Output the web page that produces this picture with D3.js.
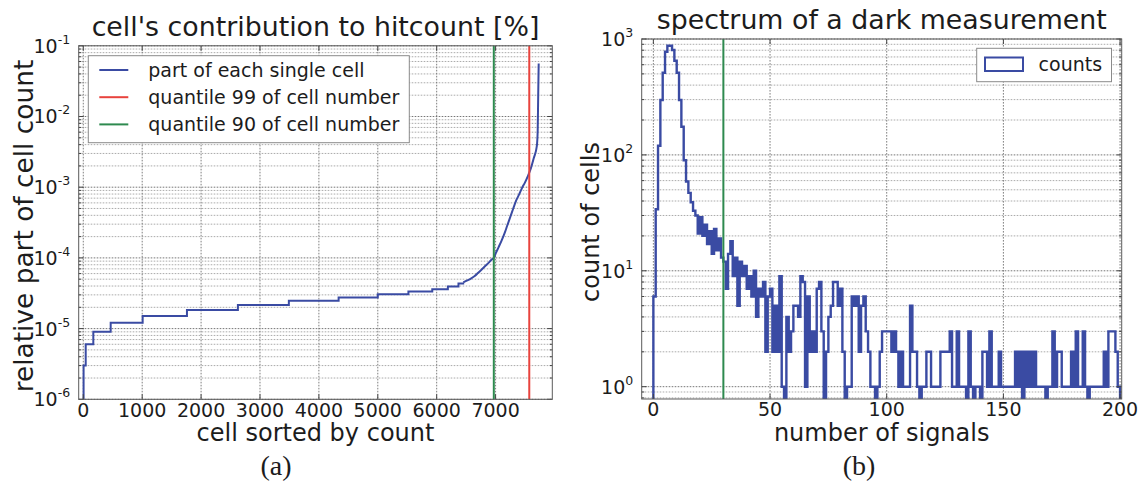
<!DOCTYPE html>
<html>
<head>
<meta charset="utf-8">
<script src="https://cdn.jsdelivr.net/npm/d3@7"></script>
<style>
  body { margin: 0; background: #fff; }
  svg text { font-family: "DejaVu Sans", sans-serif; fill: #1c1c1c; }
  .caption { font-family: "Liberation Serif", "DejaVu Serif", serif; }
</style>
</head>
<body>
<svg id="fig" width="1142" height="498"></svg>
<script>
// ---------- (a) share of every cell in the total hit count ----------
// plateau part of the sorted curve (rank where a new level starts, share)
const stepRank = [0, 5, 41, 170, 465, 1008, 1760, 2625, 3490, 4335, 5000, 5520, 5925, 6190, 6370, 6450];
const stepPart = [1.0e-6, 3.0e-6, 6.0e-6, 9.0e-6, 1.21e-5, 1.51e-5, 1.84e-5, 2.15e-5, 2.48e-5, 2.75e-5,
                  3.05e-5, 3.35e-5, 3.6e-5, 3.95e-5, 4.35e-5, 4.5e-5];
// steep tail of the sorted curve
const tailRank = [6450, 6520, 6580, 6640, 6700, 6760, 6820, 6880, 6930, 6970, 7000, 7050, 7100, 7150, 7200,
                  7250, 7300, 7350, 7400, 7450, 7500, 7550, 7600, 7650, 7700, 7715, 7722, 7728, 7732];
const tailPart = [4.5e-5, 4.8e-5, 5.1e-5, 5.5e-5, 6.1e-5, 6.8e-5, 7.6e-5, 8.5e-5, 9.4e-5, 1.0e-4, 1.15e-4,
                  1.41e-4, 1.74e-4, 2.2e-4, 2.9e-4, 3.8e-4, 5.0e-4, 6.5e-4, 7.9e-4, 9.8e-4, 1.17e-3,
                  1.45e-3, 1.86e-3, 2.6e-3, 3.8e-3, 6.3e-3, 1.6e-2, 3.5e-2, 5.6e-2];
const quantileRanks = [7572, 6970];           // quantile 99, quantile 90
const rankTicks = [0, 1000, 2000, 3000, 4000, 5000, 6000, 7000];
const partExponents = [-6, -5, -4, -3, -2, -1];
const legendA = ["part of each single cell", "quantile 99 of cell number", "quantile 90 of cell number"];

// ---------- (b) dark spectrum, bins of width 1 starting at 0 ----------
const signalCounts = [
  6, 34, 120, 298, 512, 777, 875, 875, 804, 650,
  512, 298, 175, 90, 59, 47, 39, 33, 30, 21,
  29, 20, 25, 17, 22, 14, 23, 15, 19, 13,
  12, 7, 14, 18, 9, 13, 5, 12, 9, 11,
  7, 9, 6, 10, 4, 7, 6, 8, 2, 6,
  7, 2, 5, 2, 9, 1, 0, 4, 2, 3,
  5, 5, 4, 9, 8, 1, 6, 2, 3, 2,
  7, 8, 3, 0, 2, 4, 5, 8, 8, 5,
  7, 2, 0, 1, 1, 6, 5, 6, 2, 5,
  6, 3, 2, 1, 1, 0, 1, 2, 3, 3,
  3, 3, 2, 3, 2, 1, 2, 1, 1, 1,
  5, 2, 2, 1, 0, 1, 1, 2, 2, 1,
  1, 1, 1, 2, 2, 2, 2, 3, 1, 1,
  3, 1, 1, 1, 0, 3, 1, 0, 1, 1,
  0, 2, 2, 1, 3, 1, 1, 1, 2, 1,
  1, 1, 1, 1, 1, 2, 1, 2, 0, 2,
  1, 2, 1, 2, 1, 1, 1, 1, 0, 1,
  1, 3, 1, 2, 2, 1, 1, 1, 1, 2,
  1, 3, 1, 1, 3, 1, 0, 1, 1, 1,
  1, 1, 1, 2, 1, 3, 3, 3, 2, 1
];
const signalCut = 30;
const signalTicks = [0, 50, 100, 150, 200];
const countExponents = [0, 1, 2, 3];
const legendB = ["counts"];

// ---------- drawing ----------
const BLUE = "#3a4ba3", RED = "#e8433d", GREEN = "#2e8a4f";
const svg = d3.select("#fig");

function minorValues(lo, hi) {
  const out = [];
  for (let k = Math.floor(Math.log10(lo)); k <= Math.ceil(Math.log10(hi)); k++)
    for (let m = 2; m <= 9; m++) {
      const v = m * Math.pow(10, k);
      if (v > lo && v < hi) out.push(v);
    }
  return out;
}

function frame(x, y, xTicks, yMajor, id) {
  const g = svg.append("g");
  const [x0, x1] = x.range(), [y0, y1] = y.range();
  g.append("clipPath").attr("id", id).append("rect")
    .attr("x", x0).attr("y", y1).attr("width", x1 - x0).attr("height", y0 - y1);
  const yMinor = minorValues(y.domain()[0], y.domain()[1]);
  g.selectAll(".gmin").data(yMinor).join("line")
    .attr("x1", x0).attr("x2", x1).attr("y1", d => y(d)).attr("y2", d => y(d))
    .attr("stroke", "#959595").attr("stroke-width", 0.8).attr("stroke-dasharray", "1.6 1.4");
  g.selectAll(".gmaj").data(yMajor).join("line")
    .attr("x1", x0).attr("x2", x1).attr("y1", d => y(d)).attr("y2", d => y(d))
    .attr("stroke", "#666").attr("stroke-width", 0.9).attr("stroke-dasharray", "1.6 1.4");
  g.selectAll(".gx").data(xTicks).join("line")
    .attr("x1", d => x(d)).attr("x2", d => x(d)).attr("y1", y1).attr("y2", y0)
    .attr("stroke", "#707070").attr("stroke-width", 0.9).attr("stroke-dasharray", "1.6 1.4");
  return g;
}

function axesOverlay(x, y, xTicks, yMajor, yExp, opts) {
  const g = svg.append("g");
  const [x0, x1] = x.range(), [y0, y1] = y.range();
  const yMinor = minorValues(y.domain()[0], y.domain()[1]);
  // inward tick marks on all four sides
  const tick = (vals, len, horiz) => vals.forEach(v => {
    if (horiz) {
      g.append("line").attr("x1", x0).attr("x2", x0 + len).attr("y1", y(v)).attr("y2", y(v)).attr("stroke", "#444");
      g.append("line").attr("x1", x1).attr("x2", x1 - len).attr("y1", y(v)).attr("y2", y(v)).attr("stroke", "#444");
    } else {
      g.append("line").attr("y1", y0).attr("y2", y0 - len).attr("x1", x(v)).attr("x2", x(v)).attr("stroke", "#444");
      g.append("line").attr("y1", y1).attr("y2", y1 + len).attr("x1", x(v)).attr("x2", x(v)).attr("stroke", "#444");
    }
  });
  tick(yMajor, 5, true);
  tick(yMinor, 2.5, true);
  tick(xTicks, 5, false);
  g.append("rect").attr("x", x0).attr("y", y1).attr("width", x1 - x0).attr("height", y0 - y1)
    .attr("fill", "none").attr("stroke", "#5a5a5a").attr("stroke-width", 1);
  // tick labels
  g.selectAll(".xl").data(xTicks).join("text")
    .attr("x", d => x(d)).attr("y", y0 + 17.3).attr("text-anchor", "middle")
    .attr("font-size", 19).text(d => d);
  yMajor.forEach((v, i) => {
    const t = g.append("text").attr("x", x0 - 8.5).attr("y", y(v) + 6.9)
      .attr("text-anchor", "end").attr("font-size", 19);
    t.append("tspan").text("10");
    t.append("tspan").attr("dy", -9).attr("font-size", 12.5).text(yExp[i]);
  });
  g.append("text").attr("x", (x0 + x1) / 2).attr("y", 441).attr("text-anchor", "middle")
    .attr("font-size", 24).text(opts.xlabel);
  g.append("text").attr("transform", `translate(${opts.ylabelX},${opts.ylabelY}) rotate(-90)`)
    .attr("text-anchor", "middle").attr("font-size", opts.ylabelSize).text(opts.ylabel);
  g.append("text").attr("x", (x0 + x1) / 2).attr("y", y1 - 10).attr("text-anchor", "middle")
    .attr("font-size", 26.8).text(opts.title);
  return g;
}

// ---- panel (a)
const xA = d3.scaleLinear().domain([-78, 7963]).range([78.7, 552.3]);
const yA = d3.scaleLog().domain([1e-6, 1e-1]).range([399.3, 45.8]);
const majorA = partExponents.map(e => Math.pow(10, e));
frame(xA, yA, rankTicks, majorA, "clipA");

const plotA = svg.append("g").attr("clip-path", "url(#clipA)");
plotA.append("path")
  .attr("d", d3.line().x(d => xA(d[0])).y(d => yA(d[1])).curve(d3.curveStepAfter)(stepRank.map((r, i) => [r, stepPart[i]])))
  .attr("fill", "none").attr("stroke", BLUE).attr("stroke-width", 2);
plotA.append("path")
  .attr("d", d3.line().x(d => xA(d[0])).y(d => yA(d[1])).curve(d3.curveMonotoneX)(tailRank.map((r, i) => [r, tailPart[i]])))
  .attr("fill", "none").attr("stroke", BLUE).attr("stroke-width", 2);
[RED, GREEN].forEach((c, i) => {
  plotA.append("line").attr("x1", xA(quantileRanks[i])).attr("x2", xA(quantileRanks[i]))
    .attr("y1", yA.range()[0]).attr("y2", yA.range()[1]).attr("stroke", c).attr("stroke-width", 2);
});

axesOverlay(xA, yA, rankTicks, majorA, partExponents.map(e => String(e)), {
  ylabel: "relative part of cell count", xlabel: "cell sorted by count",
  title: "cell's contribution to hitcount [%]", ylabelX: 33, ylabelY: 226, ylabelSize: 26.4
});

// legend (a)
const legA = svg.append("g");
legA.append("rect").attr("x", 88.3).attr("y", 55.7).attr("width", 321).attr("height", 87)
  .attr("fill", "#fff").attr("stroke", "#8a8a8a").attr("stroke-width", 1);
[BLUE, RED, GREEN].forEach((c, i) => {
  const yy = 70 + i * 27.2;
  legA.append("line").attr("x1", 99.3).attr("x2", 128.3).attr("y1", yy).attr("y2", yy)
    .attr("stroke", c).attr("stroke-width", 2);
  legA.append("text").attr("x", 148.3).attr("y", yy + 6.6).attr("font-size", 19).text(legendA[i]);
});

// ---- panel (b)
const xB = d3.scaleLinear().domain([-5, 200.7]).range([641.7, 1121.7]);
const yB = d3.scaleLog().domain([0.783, 1000]).range([399, 39]);
const majorB = countExponents.map(e => Math.pow(10, e));
frame(xB, yB, signalTicks, majorB, "clipB");

const plotB = svg.append("g").attr("clip-path", "url(#clipB)");
const floorB = yB.domain()[0] / 10;
const outline = [[0, floorB]];
signalCounts.forEach((c, i) => outline.push([i, c > 0 ? c : floorB]));
outline.push([signalCounts.length, signalCounts[signalCounts.length - 1] || floorB]);
outline.push([signalCounts.length, floorB]);
plotB.append("path")
  .attr("d", d3.line().x(d => xB(d[0])).y(d => yB(d[1])).curve(d3.curveStepAfter)(outline))
  .attr("fill", "none").attr("stroke", BLUE).attr("stroke-width", 2.4).attr("stroke-linejoin", "miter");
plotB.append("line").attr("x1", xB(signalCut)).attr("x2", xB(signalCut))
  .attr("y1", yB.range()[0]).attr("y2", yB.range()[1]).attr("stroke", GREEN).attr("stroke-width", 2);

axesOverlay(xB, yB, signalTicks, majorB, countExponents.map(e => String(e)), {
  ylabel: "count of cells", xlabel: "number of signals",
  title: "spectrum of a dark measurement", ylabelX: 598.5, ylabelY: 222, ylabelSize: 24
});

// legend (b)
const legB = svg.append("g");
legB.append("rect").attr("x", 976.7).attr("y", 48.3).attr("width", 134.8).attr("height", 33.4)
  .attr("fill", "#fff").attr("stroke", "#8a8a8a").attr("stroke-width", 1);
legB.append("rect").attr("x", 985).attr("y", 57.5).attr("width", 38).attr("height", 13.5)
  .attr("fill", "none").attr("stroke", BLUE).attr("stroke-width", 2);
legB.append("text").attr("x", 1038.6).attr("y", 71).attr("font-size", 19).text(legendB[0]);

// panel captions
svg.append("text").attr("class", "caption").attr("x", 276).attr("y", 475)
  .attr("text-anchor", "middle").attr("font-size", 28).text("(a)");
svg.append("text").attr("class", "caption").attr("x", 859).attr("y", 475)
  .attr("text-anchor", "middle").attr("font-size", 28).text("(b)");
</script>
</body>
</html>
